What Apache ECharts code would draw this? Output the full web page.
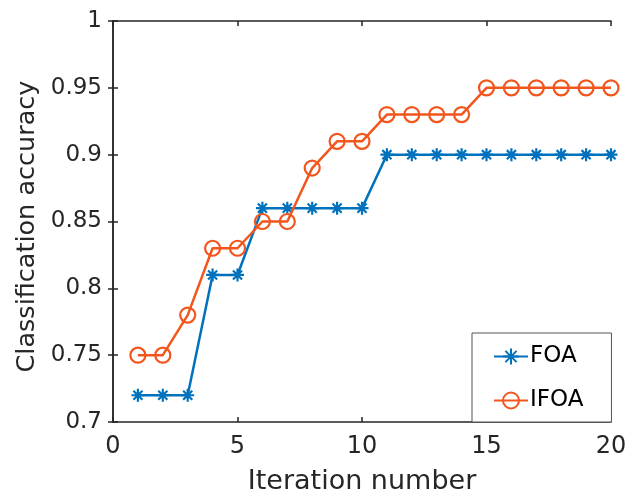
<!DOCTYPE html>
<html>
<head>
<meta charset="utf-8">
<script src="https://cdn.jsdelivr.net/npm/echarts@6/dist/echarts.min.js"></script>
<style>
  html, body { margin: 0; padding: 0; background: #fff; }
  #chart { width: 626px; height: 495px; }
</style>
</head>
<body>
<div id="chart"></div>
<script>
// Iteration numbers and accuracies for the two optimisers
var iterations = [1, 2, 3, 4, 5, 6, 7, 8, 9, 10, 11, 12, 13, 14, 15, 16, 17, 18, 19, 20];
var foaAccuracy = [0.72, 0.72, 0.72, 0.81, 0.81, 0.86, 0.86, 0.86, 0.86, 0.86, 0.90, 0.90, 0.90, 0.90, 0.90, 0.90, 0.90, 0.90, 0.90, 0.90];
var ifoaAccuracy = [0.75, 0.75, 0.78, 0.83, 0.83, 0.85, 0.85, 0.89, 0.91, 0.91, 0.93, 0.93, 0.93, 0.93, 0.95, 0.95, 0.95, 0.95, 0.95, 0.95];
var seriesNames = ['FOA', 'IFOA'];
var xTicks = [0, 5, 10, 15, 20];
var yTicks = [0.7, 0.75, 0.8, 0.85, 0.9, 0.95, 1];

var BLUE = '#0072BD';
var ORANGE = '#F2561D';
var FONT = 'DejaVu Sans, sans-serif';
var INK = '#262626';

function pairs(xs, ys) {
  return xs.map(function (x, i) { return [x, ys[i]]; });
}

// eight-spoke asterisk marker
var asterisk = 'path://M0,-10 L0,10 M-10,0 L10,0 M-7,-7 L7,7 M-7,7 L7,-7';

var axisLine = { show: true, lineStyle: { color: INK, width: 1.5 } };
var axisTick = { show: true, inside: true, length: 5, lineStyle: { color: INK, width: 1.5 } };

var chart = echarts.init(document.getElementById('chart'), null, { renderer: 'canvas' });
chart.setOption({
  animation: false,
  backgroundColor: '#fff',
  grid: { left: 113, right: 15, top: 21, bottom: 73, containLabel: false, outerBoundsMode: 'none' },
  xAxis: [
    {
      type: 'value', min: 0, max: 20, interval: 5,
      name: 'Iteration number', nameLocation: 'middle', nameGap: 46,
      nameTextStyle: { fontFamily: FONT, fontSize: 27, color: INK },
      axisLine: axisLine, axisTick: axisTick,
      axisLabel: { fontFamily: FONT, fontSize: 24, color: INK, margin: 13,
        formatter: function (v) { return xTicks.indexOf(v) >= 0 ? String(v) : ''; } },
      splitLine: { show: false }
    },
    {
      type: 'value', min: 0, max: 20, interval: 5, position: 'top',
      axisLine: axisLine, axisTick: axisTick, axisLabel: { show: false }, splitLine: { show: false }
    }
  ],
  yAxis: [
    {
      type: 'value', min: 0.7, max: 1, interval: 0.05,
      name: 'Classification accuracy', nameLocation: 'middle', nameGap: 73, nameRotate: 90,
      nameTextStyle: { fontFamily: FONT, fontSize: 25.5, color: INK, padding: [0, 10, 0, 0] },
      axisLine: axisLine, axisTick: axisTick,
      axisLabel: { fontFamily: FONT, fontSize: 23, color: INK, margin: 11,
        formatter: function (v) {
          var r = Math.round(v * 100) / 100;
          return yTicks.indexOf(r) >= 0 ? String(r) : '';
        } },
      splitLine: { show: false }
    },
    {
      type: 'value', min: 0.7, max: 1, interval: 0.05, position: 'right',
      axisLine: axisLine, axisTick: axisTick, axisLabel: { show: false }, splitLine: { show: false }
    }
  ],
  legend: {
    orient: 'vertical',
    left: 472, bottom: 73,
    padding: [12, 28, 10, 21],
    itemGap: 21,
    itemWidth: 34, itemHeight: 20,
    borderColor: '#555', borderWidth: 1, borderRadius: 0,
    backgroundColor: '#fff',
    textStyle: { fontFamily: FONT, fontSize: 23, color: '#000', padding: [0, 0, 0, -3] },
    data: seriesNames
  },
  series: [
    {
      name: seriesNames[0], type: 'line', data: pairs(iterations, foaAccuracy),
      symbol: asterisk, symbolSize: 13, showAllSymbol: true,
      lineStyle: { color: BLUE, width: 2.5 },
      itemStyle: { color: 'none', borderColor: BLUE, borderWidth: 2.2 },
      emphasis: { disabled: true }, z: 2
    },
    {
      name: seriesNames[1], type: 'line', data: pairs(iterations, ifoaAccuracy),
      symbol: 'circle', symbolSize: 15, showAllSymbol: true,
      lineStyle: { color: ORANGE, width: 2.5 },
      itemStyle: { color: 'none', borderColor: ORANGE, borderWidth: 2.2 },
      emphasis: { disabled: true }, z: 3
    }
  ]
});
</script>
</body>
</html>
